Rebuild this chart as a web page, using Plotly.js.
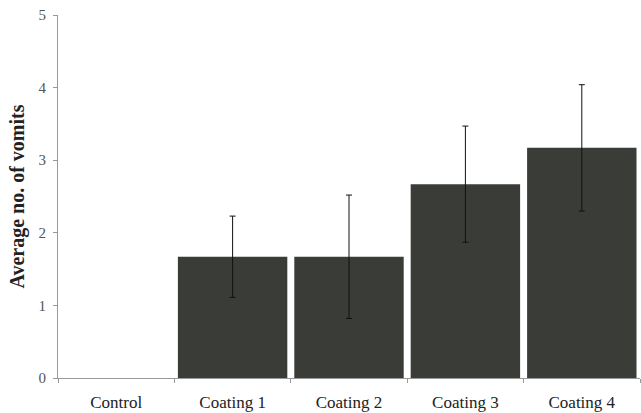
<!DOCTYPE html>
<html><head><meta charset="utf-8">
<script src="https://cdn.plot.ly/plotly-3.0.1.min.js"></script>
<style>body{margin:0;padding:0;background:#fff}#c{width:641px;height:413px}</style>
</head><body><div id="c"></div>
<script>
const categories = ["Control", "Coating 1", "Coating 2", "Coating 3", "Coating 4"];
const averages = [0, 1.67, 1.67, 2.67, 3.17];
const errors = [NaN, 0.56, 0.85, 0.8, 0.87];
const yTicks = [0, 1, 2, 3, 4, 5];

Plotly.newPlot("c", [{
  type: "bar",
  x: categories,
  y: averages,
  marker: {color: "#3a3d37", line: {width: 0}},
  error_y: {type: "data", array: errors, visible: true, color: "#111", thickness: 1, width: 3}
}], {
  width: 641, height: 413,
  margin: {l: 58, r: 1, t: 15, b: 35},
  paper_bgcolor: "#fff", plot_bgcolor: "#fff",
  bargap: 0.06,
  showlegend: false,
  font: {family: "Liberation Serif, Times New Roman, serif", color: "#222", size: 16},
  xaxis: {
    showline: true, linecolor: "#999", linewidth: 1,
    ticks: "outside", ticklen: 4, tickcolor: "#999", tickson: "boundaries",
    showgrid: false, zeroline: false,
    ticklabelstandoff: 9,
    tickfont: {size: 17, color: "#222"}
  },
  yaxis: {
    range: [0, 5], tickvals: yTicks,
    showline: true, linecolor: "#999", linewidth: 1,
    ticks: "outside", ticklen: 4, tickcolor: "#999",
    showgrid: false, zeroline: false,
    ticklabelstandoff: 4,
    tickfont: {size: 15, color: "#555"},
    title: {text: "<b>Average no. of vomits</b>", font: {size: 20, color: "#222"}, standoff: 8}
  }
}, {displayModeBar: false, staticPlot: true});
</script></body></html>
